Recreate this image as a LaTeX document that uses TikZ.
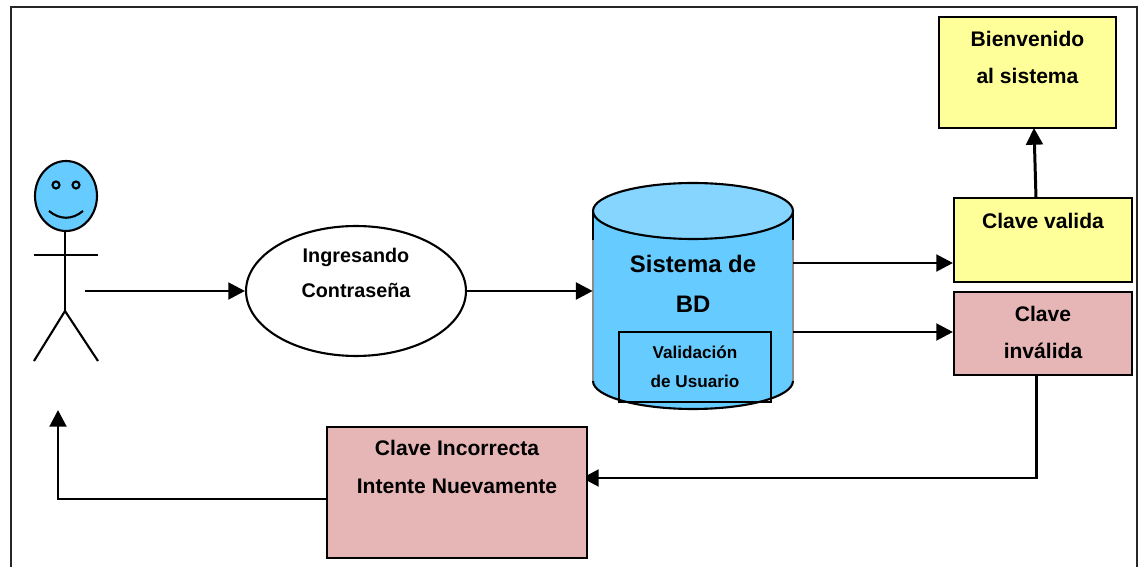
\documentclass[tikz,border=0pt]{standalone}
\usepackage{fontspec}
\setmainfont{Liberation Sans}
\usetikzlibrary{positioning,arrows.meta,shapes.geometric}
\definecolor{amarillo}{RGB}{255,255,153}
\definecolor{rosado}{RGB}{230,181,181}
\definecolor{celeste}{RGB}{102,204,255}
\definecolor{celesteclaro}{RGB}{133,213,255}
\tikzset{
  caja/.style={draw=black,line width=1.2pt,rectangle,inner sep=0pt},
  flecha/.style={line width=1.7pt,-{Triangle[length=9.5pt,width=9.5pt]}},
  etiqueta/.style={inner sep=0pt,text height=.72em,text depth=.21em,font=\fontsize{12}{14}\selectfont\bfseries},
  monigote/.style={line width=1.2pt}
}

\begin{document}
\begin{tikzpicture}[x=0.02cm,y=-0.02cm]
\useasboundingbox (0,0) rectangle (1140,567);
% Marco
\draw[line width=1pt,black!85] (11,567) -- (11,7) -- (1137,7) -- (1137,567); % frame
% Actor
\node[draw=black,monigote,fill=celeste,ellipse,inner sep=0pt,minimum width=1.24cm,minimum height=1.4cm] (cabeza) at (66,196) {};
\node[draw=black,monigote,circle,inner sep=0pt,minimum size=0.14cm] (ojoizq) at (56,185) {};
\node[draw=black,monigote,circle,inner sep=0pt,minimum size=0.14cm] (ojoder) at (76,185) {};
\draw[monigote] (49,211) .. controls (60,220) and (72,220) .. (83,211); % smile
\coordinate (cadera) at (65,311);
\draw[monigote] (cabeza.south -| cadera) -- (cadera); % body
\draw[monigote] (34,255) -- (98,255); % arms
\draw[monigote] (cadera) -- (34,361); % left leg
\draw[monigote] (cadera) -- (98,361); % right leg
% Ingreso
\node[draw=black,monigote,ellipse,inner sep=0pt,minimum width=4.4cm,minimum height=2.6cm] (ingreso) at (356,291) {};
\node[etiqueta,font=\fontsize{11.25}{13}\selectfont\bfseries,below = 5mm of ingreso.north] (ingreso1) {Ingresando};
\node[etiqueta,font=\fontsize{11.25}{13}\selectfont\bfseries,below = 12mm of ingreso.north] (ingreso2) {Contraseña};
% Base de datos
\node[inner sep=0pt,minimum width=4cm,minimum height=4.5cm] (bd) at (693,296.5) {};
\fill[celeste] (593,211) -- (593,381) arc[start angle=180,end angle=360,x radius=2cm,y radius=0.56cm] -- (793,211) -- cycle; % body
\draw[line width=1.2pt,black!45] (593,240) -- (593,381); % left side
\draw[line width=1.2pt,black!45] (793,240) -- (793,381); % right side
\draw[monigote] (593,240) -- (593,211); % left side top
\draw[monigote] (793,240) -- (793,211); % right side top
\draw[monigote] (593,381) arc[start angle=180,end angle=360,x radius=2cm,y radius=0.56cm]; % bottom
\filldraw[monigote,draw=black,fill=celesteclaro] (693,211) ellipse[x radius=2cm,y radius=0.56cm]; % top
\node[etiqueta,font=\fontsize{13.6}{16}\selectfont\bfseries,below = 15.2mm of bd.north] (bd1) {Sistema de};
\node[etiqueta,font=\fontsize{13.6}{16}\selectfont\bfseries,below = 23.2mm of bd.north] (bd2) {BD};
\node[caja,minimum width=3.04cm,minimum height=1.4cm] (validacion) at (695,367) {};
\node[etiqueta,font=\fontsize{9.75}{12}\selectfont\bfseries,below = 3mm of validacion.north] (validacion1) {Validación};
\node[etiqueta,font=\fontsize{9.75}{12}\selectfont\bfseries,below = 8.8mm of validacion.north] (validacion2) {de Usuario};
% Clave valida
\node[caja,fill=amarillo,minimum width=3.56cm,minimum height=1.68cm] (valida) at (1043,240) {};
\node[etiqueta,below = 3.8mm of valida.north] (valida1) {Clave valida};
% Bienvenido
\node[caja,fill=amarillo,minimum width=3.54cm,minimum height=2.22cm] (bienvenido) at (1027.5,72.5) {};
\node[etiqueta,below = 3.6mm of bienvenido.north] (bienvenido1) {Bienvenido};
\node[etiqueta,below = 11mm of bienvenido.north] (bienvenido2) {al sistema};
% Clave invalida
\node[caja,fill=rosado,minimum width=3.56cm,minimum height=1.66cm] (invalida) at (1043,333.5) {};
\node[etiqueta,below = 3.6mm of invalida.north] (invalida1) {Clave};
\node[etiqueta,below = 11mm of invalida.north] (invalida2) {inválida};
% Flechas
\coordinate (actorsale) at (85,291);
\coordinate (bdvalida) at (793,263);
\coordinate (bdinvalida) at (793,332);
\coordinate (validasale) at (1036,198);
\coordinate (invalidasale) at (1036,375);
\coordinate (incorrectaentra) at (582,478);
\coordinate (incorrectasale) at (327,499);
\coordinate (actorentra) at (58,410);
\draw[flecha] (invalidasale) |- (incorrectaentra);
% Clave incorrecta
\node[caja,fill=rosado,minimum width=5.2cm,minimum height=2.62cm] (incorrecta) at (457,492.5) {};
\node[etiqueta,below = 3.4mm of incorrecta.north] (incorrecta1) {Clave Incorrecta};
\node[etiqueta,below = 11mm of incorrecta.north] (incorrecta2) {Intente Nuevamente};
\draw[flecha] (actorsale) -- (ingreso.west);
\draw[flecha] (ingreso.east) -- (ingreso.east -| bd.west);
\draw[flecha] (bdvalida) -- (bdvalida -| valida.west);
\draw[flecha] (bdinvalida) -- (bdinvalida -| invalida.west);
\draw[flecha] (validasale) -- (1034,128);
\draw[flecha] (incorrectasale) -| (actorentra);
\end{tikzpicture}
\end{document}
